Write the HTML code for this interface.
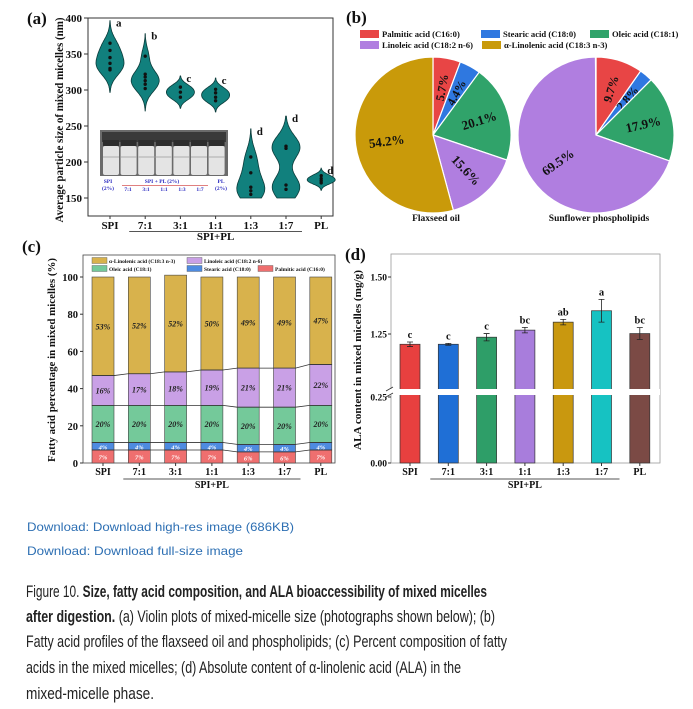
<!DOCTYPE html>
<html><head><meta charset="utf-8"><style>
html,body{margin:0;padding:0;background:#fff;}
svg{display:block;}
.s{font-family:"Liberation Serif",serif;font-weight:bold;fill:#111;}
.cap{font-family:"Liberation Sans Narrow","Liberation Sans",sans-serif;fill:#222;}
.lnk{font-family:"Liberation Sans",sans-serif;fill:#2d6fb3;}
</style></head><body>
<svg id="fig" width="693" height="709" viewBox="0 0 693 709" xmlns="http://www.w3.org/2000/svg">
<rect width="693" height="709" fill="#fff"/>
<g id="pa"></g>
<g id="pb"></g>
<g id="pc"></g>
<g id="pd"></g>
<g>
<text class="lnk" x="27" y="531" font-size="12" textLength="267" lengthAdjust="spacingAndGlyphs">Download: Download high-res image (686KB)</text>
<text class="lnk" x="27" y="555" font-size="12" textLength="216" lengthAdjust="spacingAndGlyphs">Download: Download full-size image</text>
</g>
<g font-size="16.5">
<text class="cap" x="26" y="597" textLength="461" lengthAdjust="spacingAndGlyphs">Figure 10. <tspan font-weight="bold">Size, fatty acid composition, and ALA bioaccessibility of mixed micelles</tspan></text>
<text class="cap" x="26" y="622" textLength="469" lengthAdjust="spacingAndGlyphs"><tspan font-weight="bold">after digestion.</tspan> (a) Violin plots of mixed-micelle size (photographs shown below); (b)</text>
<text class="cap" x="26" y="647" textLength="481" lengthAdjust="spacingAndGlyphs">Fatty acid profiles of the flaxseed oil and phospholipids; (c) Percent composition of fatty</text>
<text class="cap" x="26" y="673" textLength="435" lengthAdjust="spacingAndGlyphs">acids in the mixed micelles; (d) Absolute content of α-linolenic acid (ALA) in the</text>
<text class="cap" x="26" y="699" textLength="128" lengthAdjust="spacingAndGlyphs">mixed-micelle phase.</text>
</g>
</svg>
<script>
// ---------- data ----------
const groups = ["SPI","7:1","3:1","1:1","1:3","1:7","PL"];
const violinPoints = [[365,355,345,337,330,328],[347,322,318,313,308,302],[304,297,290],[301,296,290,285],[207,185,165,160,155],[222,219,168,162],[181,177,174,171]];
const violinBandwidth = [12,12,6,6,15,16,4];
const violinLetters = ["a","b","c","c","d","d","d"];
const aTicks = [150,200,250,300,350,400];
const pieCats = ["Palmitic acid (C16:0)","Stearic acid (C18:0)","Oleic acid (C18:1)","Linoleic acid (C18:2 n-6)","α-Linolenic acid (C18:3 n-3)"];
const flaxValues = [5.7,4.4,20.1,15.6,54.2];
const sunflowerValues = [9.7,2.8,17.9,69.5,0.1];
const palmitic = [7,7,7,7,6,6,7];
const stearic = [4,4,4,4,4,4,4];
const oleic = [20,20,20,20,20,20,20];
const linoleic = [16,17,18,19,21,21,22];
const alaPct = [53,52,52,50,49,49,47];
const cTicks = [0,20,40,60,80,100];
const alaContent = [1.205,1.205,1.236,1.267,1.302,1.352,1.252];
const alaErr = [0.01,0.004,0.016,0.012,0.012,0.05,0.026];
const alaLetters = ["c","c","c","bc","ab","a","bc"];
const dTicksLow = [0,0.25];
const dTicksHigh = [1.25,1.5];

const NS="http://www.w3.org/2000/svg";
function el(parent,tag,attrs,text){const e=document.createElementNS(NS,tag);for(const k in attrs)e.setAttribute(k,attrs[k]);if(text!==undefined)e.textContent=text;parent.appendChild(e);return e;}

// ---------- panel a ----------
(function(){
 const g=document.getElementById('pa');
 const L=88,R=333,T=18,B=216;
 const ya=v=>18+(400-v)*0.72;
 const xa=i=>110+i*35.2;
 let t=el(g,'text',{class:'s',x:27,y:24,'font-size':17},'(a)');
 
 el(g,'rect',{x:L,y:T,width:R-L,height:B-T,fill:'none',stroke:'#333','stroke-width':1});
 aTicks.forEach(v=>{el(g,'line',{x1:L-4,x2:L,y1:ya(v),y2:ya(v),stroke:'#333'});
  const tt=el(g,'text',{class:'s',x:L-6,y:ya(v)+4,'font-size':11,'text-anchor':'end'},v);
  });
 t=el(g,'text',{class:'s','font-size':11.5,'text-anchor':'middle',transform:'translate(63,120) rotate(-90)',textLength:205,lengthAdjust:'spacingAndGlyphs'},'Average particle size of mixed micelles (nm)');
 
 const ph=el(g,'g',{});
 
 el(ph,'rect',{x:100,y:130,width:128,height:46,fill:'#6b6b6b'});
 el(ph,'rect',{x:102,y:132,width:124,height:10,fill:'#3a3a3a'});
 for(let i=0;i<7;i++){const vx=103+i*17.6;
  el(ph,'rect',{x:vx,y:140,width:16,height:6,fill:'#2d2d2d'});
  el(ph,'rect',{x:vx,y:146,width:16,height:29,fill:'#e4e4e4',rx:2});
  el(ph,'rect',{x:vx,y:156,width:16,height:2,fill:'#c8c8c8'});}
 const lab=[['SPI',108,183],['(2%)',108,190],['SPI + PL (2%)',162,183],['PL',221,183],['(2%)',221,190]];
 lab.forEach(a=>el(g,'text',{class:'s',x:a[1],y:a[2],'font-size':5.5,'text-anchor':'middle',style:'fill:#2a2ac0'},a[0]));
 ["7:1","3:1","1:1","1:3","1:7"].forEach((s,i)=>el(g,'text',{class:'s',x:128+i*18,y:191,'font-size':5.5,'text-anchor':'middle',style:'fill:#2a2ac0'},s));
 el(g,'line',{x1:122,x2:208,y1:185.5,y2:185.5,stroke:'#e08080','stroke-width':1});
 groups.forEach((name,i)=>{
  const pts=violinPoints[i],bw=violinBandwidth[i];
  const lo=Math.max(150,Math.min(...pts)-2.6*bw),hi=Math.max(...pts)+2.6*bw;
  const N=60,dens=[];
  for(let k=0;k<=N;k++){const v=lo+(hi-lo)*k/N;let d=0;pts.forEach(p=>{d+=Math.exp(-0.5*((v-p)/bw)**2);});dens.push([v,d]);}
  const mx=Math.max(...dens.map(d=>d[1]));const hw=14;
  let dr='';dens.forEach((d,k)=>{dr+=(k?'L':'M')+(xa(i)+d[1]/mx*hw).toFixed(1)+','+ya(d[0]).toFixed(1);});
  for(let k=N;k>=0;k--){const d=dens[k];dr+='L'+(xa(i)-d[1]/mx*hw).toFixed(1)+','+ya(d[0]).toFixed(1);}
  const p=el(g,'path',{d:dr+'Z',fill:'#11807d',stroke:'#0b3b3a','stroke-width':0.8});
  
  pts.forEach(v=>{const c=el(g,'circle',{cx:xa(i),cy:ya(v),r:1.7,fill:'#111'});
   });
  const lt=el(g,'text',{class:'s',x:xa(i)+6,y:ya(hi)+6,'font-size':11},violinLetters[i]);
  
  el(g,'line',{x1:xa(i),x2:xa(i),y1:B,y2:B+3,stroke:'#333'});
  const xt=el(g,'text',{class:'s',x:xa(i),y:229,'font-size':11,'text-anchor':'middle'},name);
  
 });
 el(g,'line',{x1:xa(1)-16,x2:xa(5)+16,y1:231.5,y2:231.5,stroke:'#555','stroke-width':1});
 el(g,'text',{class:'s',x:(xa(1)+xa(5))/2,y:240,'font-size':11,'text-anchor':'middle'},'SPI+PL');
})();

// ---------- panel b ----------
const pieColors=['#e84545','#2f78e0','#30a36a','#b07ee0','#c99a0a'];
(function(){
 const g=document.getElementById('pb');
 let t=el(g,'text',{class:'s',x:346,y:23,'font-size':17},'(b)');
 
 const leg=[[0,360,37],[1,481,37],[2,590,37],[3,360,48],[4,482,48]];
 leg.forEach(a=>{const e=el(g,'g',{});
  el(e,'rect',{x:a[1],y:a[2]-7,width:19,height:8,fill:pieColors[a[0]]});
  el(e,'text',{class:'s',x:a[1]+22,y:a[2],'font-size':8.6},pieCats[a[0]]);});
 function pie(cx,cy,r,vals,title,tx){
  const tot=vals.reduce((a,b)=>a+b,0);let a0=0;
  vals.forEach((v,i)=>{const a1=a0+v/tot*2*Math.PI;
   const p=(a)=>[cx+r*Math.sin(a),cy-r*Math.cos(a)];
   const [x0,y0]=p(a0),[x1,y1]=p(a1);
   const s=el(g,'path',{d:`M${cx},${cy}L${x0},${y0}A${r},${r} 0 ${a1-a0>Math.PI?1:0} 1 ${x1},${y1}Z`,fill:pieColors[i],stroke:'#fff','stroke-width':1.2});
   
   if(v>=1){const m=(a0+a1)/2;const lr=(v>40?0.6:0.62)*r;const lx=cx+lr*Math.sin(m),ly=cy-lr*Math.cos(m);
    let rot=m*180/Math.PI-90;if(rot>90)rot-=180;
    const lt=el(g,'text',{class:'s','font-size':v>10?13:12,'text-anchor':'middle',transform:`translate(${lx},${ly}) rotate(${rot})`,dy:4.5},v.toFixed(1)+'%');
    }
   a0=a1;});
  const tt=el(g,'text',{class:'s',x:tx,y:221,'font-size':9.5,'text-anchor':'middle'},title);
  
 }
 pie(433,135,78,flaxValues,'Flaxseed oil',436);
 pie(596,135,78,sunflowerValues,'Sunflower phospholipids',599);
})();

// ---------- panel c ----------
(function(){
 const g=document.getElementById('pc');
 const L=83,R=335,T=255,B=463;
 const yc=v=>B-v*1.86;
 const xc=i=>103+i*36.3;const bw=22;
 let t=el(g,'text',{class:'s',x:22,y:252,'font-size':17},'(c)');
 
 el(g,'rect',{x:L,y:T,width:R-L,height:B-T,fill:'none',stroke:'#444','stroke-width':0.8});
 cTicks.forEach(v=>{el(g,'line',{x1:L-3,x2:L,y1:yc(v),y2:yc(v),stroke:'#333'});
  const tt=el(g,'text',{class:'s',x:L-5,y:yc(v)+4,'font-size':10.5,'text-anchor':'end'},v);
  });
 t=el(g,'text',{class:'s','font-size':10.5,'text-anchor':'middle',transform:'translate(55,360) rotate(-90)',textLength:204,lengthAdjust:'spacingAndGlyphs'},'Fatty acid percentage in mixed micelles (%)');
 
 const series=[palmitic,stearic,oleic,linoleic,alaPct];
 const cols=['#ef6f6f','#4e8be0','#74c99a','#c9a0e6','#d8b24c'];
 const names=['palmitic','stearic','oleic','linoleic','ala'];
 const tops=[];
 groups.forEach((name,i)=>{let base=0;tops[i]=[];
  series.forEach((s,k)=>{const v=s[i];
   const r=el(g,'rect',{x:xc(i)-bw/2,y:yc(base+v),width:bw,height:yc(base)-yc(base+v),fill:cols[k],stroke:'#444','stroke-width':0.6});
   
   const lt=el(g,'text',{class:'s',x:xc(i),y:yc(base+v/2)+3,'font-size':k<2?6.5:8,'font-style':'italic','text-anchor':'middle',style:k<2?'fill:#fff':'fill:#222'},v+'%');
   
   base+=v;tops[i].push(base);});
  el(g,'line',{x1:xc(i),x2:xc(i),y1:B,y2:B+3,stroke:'#333'});
  const xt=el(g,'text',{class:'s',x:xc(i),y:475,'font-size':10,'text-anchor':'middle'},name);
  
 });
 for(let k=0;k<4;k++){let d='';groups.forEach((n,i)=>{d+=(i?'L':'M')+(xc(i)-bw/2)+','+yc(tops[i][k])+'L'+(xc(i)+bw/2)+','+yc(tops[i][k]);});
  const p=el(g,'path',{d:d,fill:'none',stroke:'#333','stroke-width':0.8});}
 el(g,'line',{x1:xc(1)-16,x2:xc(5)+16,y1:479,y2:479,stroke:'#555'});
 el(g,'text',{class:'s',x:(xc(1)+xc(5))/2,y:488,'font-size':10,'text-anchor':'middle'},'SPI+PL');
 const leg=[[4,92,263],[3,187,263],[2,92,271],[1,187,271],[0,258,271]];
 leg.forEach(a=>{const e=el(g,'g',{});
  el(e,'rect',{x:a[1],y:a[2]-5.5,width:15,height:6,fill:cols[a[0]],stroke:'#555','stroke-width':0.4});
  el(e,'text',{class:'s',x:a[1]+17,y:a[2],'font-size':5.5},pieCats[a[0]]);});
})();

// ---------- panel d ----------
(function(){
 const g=document.getElementById('pd');
 const L=391,R=660,T=254,B=463;
 const yLow=v=>B-v*264;
 const yHigh=v=>334-(v-1.25)*228;
 const yd=v=>v<=0.3?yLow(v):yHigh(v);
 const brkTop=389,brkBot=395;
 const xd=i=>410+i*38.3;const bw=20;
 let t=el(g,'text',{class:'s',x:345,y:260,'font-size':17},'(d)');
 
 el(g,'rect',{x:L,y:T,width:R-L,height:B-T,fill:'none',stroke:'#999','stroke-width':0.8});
 const cols=['#e8403f','#1f6fd6','#2e9e68','#a87ddc','#c9980f','#16c2c2','#7b4a45'];
 groups.forEach((name,i)=>{const v=alaContent[i];
  const r=el(g,'rect',{x:xd(i)-bw/2,y:yd(v),width:bw,height:B-yd(v),fill:cols[i],stroke:'#333','stroke-width':0.7});
  
  const e=alaErr[i],y1=yd(v+e),y2=yd(v-e);
  el(g,'path',{d:`M${xd(i)},${y1}V${y2}M${xd(i)-3},${y1}H${xd(i)+3}M${xd(i)-3},${y2}H${xd(i)+3}`,stroke:'#222','stroke-width':0.8,fill:'none'});
  const lt=el(g,'text',{class:'s',x:xd(i),y:y1-4,'font-size':10.5,'text-anchor':'middle'},alaLetters[i]);
  
  el(g,'line',{x1:xd(i),x2:xd(i),y1:B,y2:B+3,stroke:'#333'});
  const xt=el(g,'text',{class:'s',x:xd(i),y:475,'font-size':10,'text-anchor':'middle'},name);
  });
 el(g,'rect',{x:L-4,y:brkTop,width:R-L+4,height:brkBot-brkTop,fill:'#fff'});
 el(g,'path',{d:`M${L-5},${brkTop+2}L${L+2},${brkTop-2}M${L-5},${brkBot+2}L${L+2},${brkBot-2}`,stroke:'#333','stroke-width':0.8});
 dTicksLow.concat(dTicksHigh).forEach(v=>{el(g,'line',{x1:L-3,x2:L,y1:yd(v),y2:yd(v),stroke:'#333'});
  const tt=el(g,'text',{class:'s',x:L-4,y:yd(v)+3.5,'font-size':9.5,'text-anchor':'end'},v.toFixed(2));
  });
 t=el(g,'text',{class:'s','font-size':10,'text-anchor':'middle',transform:'translate(361,360) rotate(-90)',textLength:180,lengthAdjust:'spacingAndGlyphs'},'ALA content in mixed micelles (mg/g)');
 
 el(g,'line',{x1:xd(1)-18,x2:xd(5)+18,y1:479,y2:479,stroke:'#555'});
 el(g,'text',{class:'s',x:(xd(1)+xd(5))/2,y:488,'font-size':10,'text-anchor':'middle'},'SPI+PL');
})();
</script>
</body></html>
